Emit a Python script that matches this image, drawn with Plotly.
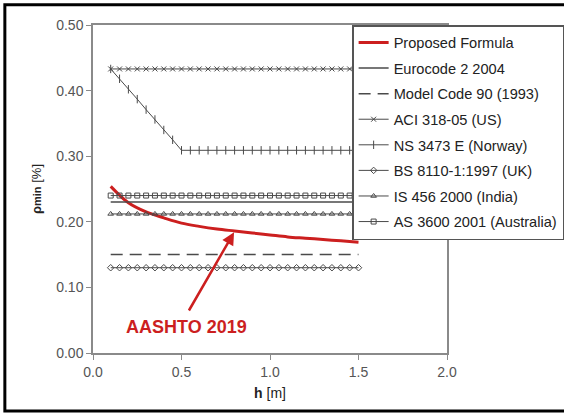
import numpy as np
import plotly.graph_objects as go

# --- data ---
h_marks = [round(0.1 + 0.05 * i, 2) for i in range(29)]  # 0.10 .. 1.50
h_prop = [0.1, 0.2, 0.3, 0.4, 0.5, 0.6, 0.7, 0.8, 0.9, 1.0, 1.1, 1.2, 1.3, 1.4, 1.5]
rho_proposed = [0.254, 0.229, 0.215, 0.206, 0.198, 0.193, 0.189, 0.186, 0.183, 0.180,
                0.177, 0.175, 0.173, 0.171, 0.169]
h_line = [0.1, 1.5]
rho_eurocode = [0.23, 0.23]
rho_mc90 = [0.15, 0.15]
rho_aci = [0.433] * 29
h_ns = [0.1, 0.15, 0.2, 0.25, 0.3, 0.35, 0.4, 0.45, 0.5] + [round(0.55 + 0.05 * i, 2) for i in range(20)]
rho_ns = [0.433, 0.418, 0.402, 0.387, 0.371, 0.356, 0.340, 0.325, 0.309] + [0.309] * 20
rho_bs = [0.13] * 29
rho_is = [0.212] * 29
rho_as = [0.24] * 29

names = ["Proposed Formula", "Eurocode 2 2004", "Model Code 90 (1993)", "ACI 318-05 (US)",
         "NS 3473 E (Norway)", "BS 8110-1:1997 (UK)", "IS 456 2000 (India)",
         "AS 3600 2001 (Australia)"]

GREY = "#4a4a4a"
RED = "#cc1f1f"

fig = go.Figure()
fig.add_trace(go.Scatter(x=h_prop, y=rho_proposed, name=names[0], mode="lines",
                         line=dict(color=RED, width=3, shape="spline")))
fig.add_trace(go.Scatter(x=h_line, y=rho_eurocode, name=names[1], mode="lines",
                         line=dict(color=GREY, width=1.5)))
fig.add_trace(go.Scatter(x=h_line, y=rho_mc90, name=names[2], mode="lines",
                         line=dict(color=GREY, width=1.5, dash="12px,7px")))
mk = dict(size=5, color=GREY, line=dict(color=GREY, width=1))
fig.add_trace(go.Scatter(x=h_marks, y=rho_aci, name=names[3], mode="lines+markers",
                         line=dict(color=GREY, width=1), marker=dict(mk, symbol="x-thin")))
fig.add_trace(go.Scatter(x=h_ns, y=rho_ns, name=names[4], mode="lines+markers",
                         line=dict(color=GREY, width=1), marker=dict(mk, symbol="line-ns", size=6)))
fig.add_trace(go.Scatter(x=h_marks, y=rho_bs, name=names[5], mode="lines+markers",
                         line=dict(color=GREY, width=1), marker=dict(mk, symbol="diamond-open", size=5)))
fig.add_trace(go.Scatter(x=h_marks, y=rho_is, name=names[6], mode="lines+markers",
                         line=dict(color=GREY, width=1), marker=dict(mk, symbol="triangle-up-open", size=5)))
fig.add_trace(go.Scatter(x=h_marks, y=rho_as, name=names[7], mode="lines+markers",
                         line=dict(color=GREY, width=1), marker=dict(mk, symbol="square-open", size=5)))

for i, tr in enumerate(fig.data):
    tr.legendgroup = f"g{i}"

axis_common = dict(showgrid=False, zeroline=False, showline=True, linecolor="#8a8a8a",
                   linewidth=1.5, mirror=True, ticks="outside", ticklen=5, tickcolor="#8a8a8a",
                   tickfont=dict(family="Liberation Sans, Arial", size=14, color="#555555"))

fig.update_layout(
    width=564, height=414,
    margin=dict(l=93, r=117, t=25, b=61, autoexpand=False),
    paper_bgcolor="white", plot_bgcolor="white",
    font=dict(family="Liberation Sans, Arial", color="#222222"),
    xaxis=dict(axis_common, range=[0, 2.0], tick0=0, dtick=0.5, tickformat=".1f",
               title=dict(text="<b>h</b> [m]", font=dict(size=14), standoff=10)),
    yaxis=dict(axis_common, range=[0, 0.5], tick0=0, dtick=0.1, tickformat=".2f",
               title=dict(text="<b>ρ<span style='font-size:11px'>min</span></b> [%]",
                          font=dict(size=13), standoff=12)),
    legend=dict(x=0.732, y=1.0, xanchor="left", yanchor="top",
                bgcolor="white", bordercolor="#555555", borderwidth=1.5,
                font=dict(family="Liberation Sans, Arial", size=14.6, color="#222222"),
                tracegroupgap=3.6, traceorder="grouped", itemwidth=30),
    showlegend=True,
)

fig.add_annotation(x=0.797, y=0.184, ax=0.537, ay=0.0625, xref="x", yref="y",
                   axref="x", ayref="y", text="", showarrow=True, arrowhead=2,
                   arrowsize=1, arrowwidth=2.5, arrowcolor=RED)
fig.add_annotation(x=0.53, y=0.040, xref="x", yref="y", text="<b>AASHTO 2019</b>",
                   showarrow=False, font=dict(family="Liberation Sans, Arial", size=18, color=RED))

fig.add_shape(type="rect", xref="paper", yref="paper", x0=-0.249, x1=1.6, y0=-0.177, y1=1.062,
              line=dict(color="black", width=3), fillcolor="rgba(0,0,0,0)")

fig.write_html("out.html")
